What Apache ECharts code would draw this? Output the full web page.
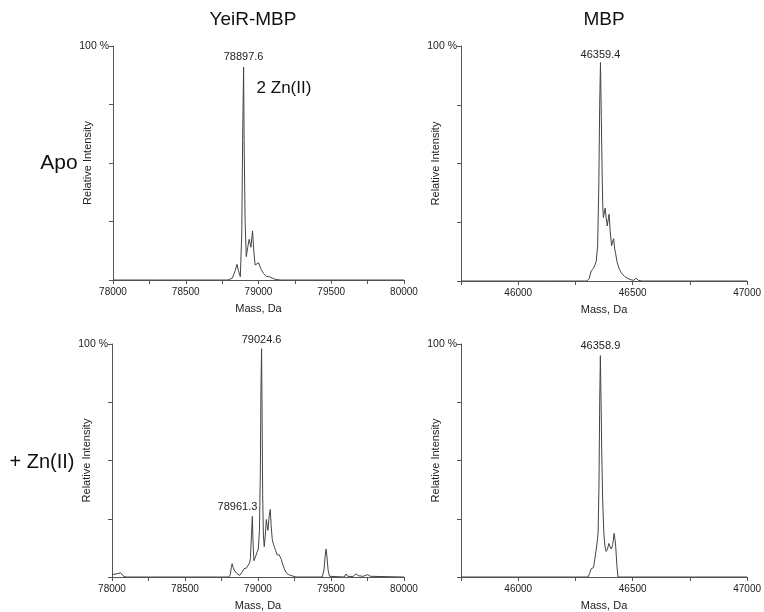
<!DOCTYPE html>
<html>
<head>
<meta charset="utf-8">
<script src="https://cdn.jsdelivr.net/npm/echarts@6/dist/echarts.min.js"></script>
<style>
html, body { margin: 0; padding: 0; background: #fff; }
#main { width: 764px; height: 612px; }
</style>
</head>
<body>
<div id="main"></div>
<script>
// Apo YeiR-MBP
var apoYeirMass = [78000, 78300, 78310, 78320, 78790, 78820, 78840, 78852, 78862, 78875, 78885, 78891, 78897.6, 78901, 78908, 78916, 78926, 78936, 78948, 78959, 78968, 78977, 78988, 79000, 79015, 79034, 79055, 79075, 79095, 79114, 79150, 79460, 79470, 79480, 79595, 79605, 79620, 80000];
var apoYeirInt  = [0, 0, 0.3, 0, 0, 0.8, 4, 6.7, 4, 1.4, 20, 60, 91, 60, 25, 10, 14, 17.4, 14, 21, 12, 6.4, 6, 7.4, 5, 2.8, 1.5, 1.4, 0.8, 0.3, 0, 0, 0.5, 0, 0, 0.6, 0, 0];

// Apo MBP
var apoMbpMass = [45750, 46100, 46107, 46115, 46300, 46310, 46319, 46329, 46336, 46341, 46347, 46352, 46356, 46359.4, 46363, 46366, 46369, 46372, 46376, 46380, 46384, 46389, 46393, 46397, 46402, 46408, 46413, 46417, 46421, 46425, 46432, 46442, 46452, 46464, 46480, 46493, 46505, 46515, 46525, 46540, 46625, 46632, 46640, 46930, 46935, 46940, 47000];
var apoMbpInt  = [0, 0, 0.5, 0, 0, 1, 4.3, 5.4, 7, 8.5, 15, 40, 75, 93, 70, 50, 33, 27, 29, 31, 27, 23.4, 26, 28.4, 21, 15, 17, 18, 14, 12, 8, 5, 3.2, 2, 1, 0.5, 0.3, 1.2, 0.3, 0, 0, 0.5, 0, 0, 0.4, 0, 0];

// + Zn(II) YeiR-MBP
var znYeirMass = [78000, 78010, 78040, 78060, 78080, 78100, 78290, 78295, 78300, 78500, 78511, 78520, 78650, 78659, 78670, 78800, 78810, 78817, 78823, 78830, 78841, 78855, 78875, 78890, 78905, 78920, 78932, 78942, 78948, 78955, 78961.3, 78966, 78972, 78978, 78985, 78992, 79002, 79010, 79016, 79020, 79024.6, 79028, 79032, 79037, 79043, 79050, 79057, 79063, 79068, 79076, 79084, 79090, 79098, 79106, 79114, 79120, 79125, 79131, 79136, 79145, 79152, 79160, 79166, 79180, 79193, 79210, 79239, 79260, 79440, 79452, 79460, 79466, 79472, 79480, 79490, 79500, 79590, 79602, 79614, 79650, 79670, 79690, 79720, 79750, 79770, 80000];
var znYeirInt  = [1, 1.5, 1.5, 1.8, 0.3, 0, 0, 0.4, 0, 0, 0.3, 0, 0, 0.3, 0, 0, 1, 4, 5.7, 4, 2.6, 1.5, 0.7, 2, 3.6, 3.8, 3, 6, 8, 18, 26, 15, 7, 6.5, 9, 10.4, 12, 20, 45, 80, 98, 70, 35, 18, 13, 18, 24.7, 22, 20, 26, 29, 22, 16, 14, 12.6, 11.5, 11, 9.5, 8.7, 9.5, 9, 7.5, 6, 3.5, 1.9, 1, 0.4, 0, 0, 3, 9, 12, 9, 3, 0.3, 0, 0, 1.3, 0.3, 0.2, 1.3, 0.5, 0.3, 1, 0.3, 0];

// + Zn(II) MBP
var znMbpMass = [45750, 46305, 46312, 46319, 46325, 46329, 46335, 46341, 46346, 46349, 46353, 46356, 46358.9, 46362, 46365, 46369, 46374, 46379, 46384, 46390, 46396, 46401, 46407, 46413, 46419, 46423, 46426, 46431, 46436, 47000];
var znMbpInt  = [0, 0, 1.5, 3.6, 3.8, 4, 8, 12, 16, 19, 40, 75, 95, 75, 53, 33, 19, 13, 11, 12, 14.4, 13, 12, 14, 18.7, 16, 13, 5, 0, 0];

var rowLabels = ['Apo', '+ Zn(II)'];
var colTitles = ['YeiR-MBP', 'MBP'];

function zip(a, b) {
    return a.map(function (v, i) { return [v, b[i]]; });
}

var font = 'Liberation Sans, Arial, sans-serif';
var axisColor = '#555';
var textColor = '#222';

var grids = [
    {left: 113, top: 46, width: 291, height: 234},
    {left: 461, top: 46, width: 290, height: 235},
    {left: 112, top: 344, width: 292, height: 234},
    {left: 461, top: 344, width: 290, height: 234}
];

var ranges = [[78000, 80000], [45750, 47000], [78000, 80000], [45750, 47000]];

var xAxes = ranges.map(function (r, i) {
    return {
        type: 'value',
        gridIndex: i,
        min: r[0],
        max: r[1],
        interval: 250,
        name: 'Mass, Da',
        nameLocation: 'middle',
        nameGap: 23,
        nameMoveOverlap: false,
        nameTextStyle: {fontSize: 11, color: textColor, fontFamily: font},
        axisLine: {lineStyle: {color: axisColor, width: 1}},
        axisTick: {length: 4, lineStyle: {color: axisColor}},
        splitLine: {show: false},
        axisLabel: {
            fontSize: 10,
            color: textColor,
            fontFamily: font,
            margin: 7,
            formatter: function (v) { return v % 500 === 0 ? String(v) : ''; }
        }
    };
});

var yAxes = grids.map(function (g, i) {
    return {
        type: 'value',
        gridIndex: i,
        min: 0,
        max: 100,
        interval: 25,
        name: 'Relative Intensity',
        nameLocation: 'middle',
        nameGap: 20,
        nameMoveOverlap: false,
        nameTextStyle: {fontSize: 11, color: textColor, fontFamily: font},
        axisLine: {show: true, lineStyle: {color: axisColor, width: 1}},
        axisTick: {show: true, length: 4, lineStyle: {color: axisColor}},
        splitLine: {show: false},
        axisLabel: {
            fontSize: 10.5,
            color: textColor,
            fontFamily: font,
            margin: 4,
            formatter: function (v) { return v === 100 ? '100 %' : ''; }
        }
    };
});

function peakMark(items) {
    return {
        symbol: 'circle',
        symbolSize: 0,
        silent: true,
        label: {show: true, color: textColor, fontSize: 11, fontFamily: font, formatter: '{b}'},
        data: items
    };
}

var series = [
    {
        type: 'line', xAxisIndex: 0, yAxisIndex: 0,
        data: zip(apoYeirMass, apoYeirInt),
        markPoint: peakMark([{name: '78897.6', coord: [78897.6, 91], label: {position: 'top', distance: 5}}])
    },
    {
        type: 'line', xAxisIndex: 1, yAxisIndex: 1,
        data: zip(apoMbpMass, apoMbpInt),
        markPoint: peakMark([{name: '46359.4', coord: [46359.4, 93], label: {position: 'top', distance: 2}}])
    },
    {
        type: 'line', xAxisIndex: 2, yAxisIndex: 2,
        data: zip(znYeirMass, znYeirInt),
        markPoint: peakMark([
            {name: '79024.6', coord: [79024.6, 98], label: {position: 'top', distance: 3}},
            {name: '78961.3', coord: [78961.3, 26], label: {position: 'left', distance: 0, offset: [5, -9]}}
        ])
    },
    {
        type: 'line', xAxisIndex: 3, yAxisIndex: 3,
        data: zip(znMbpMass, znMbpInt),
        markPoint: peakMark([{name: '46358.9', coord: [46358.9, 95], label: {position: 'top', distance: 4}}])
    }
].map(function (s) {
    s.showSymbol = false;
    s.symbol = 'none';
    s.silent = true;
    s.animation = false;
    s.lineStyle = {color: '#444', width: 1};
    return s;
});

function label(text, x, y, size) {
    return {
        type: 'text',
        x: x,
        y: y,
        style: {
            text: text,
            fill: '#111',
            font: size + 'px ' + font,
            align: 'center',
            verticalAlign: 'middle'
        }
    };
}

var chart = echarts.init(document.getElementById('main'));
chart.setOption({
    backgroundColor: '#fff',
    animation: false,
    grid: grids,
    xAxis: xAxes,
    yAxis: yAxes,
    series: series,
    graphic: [
        label(colTitles[0], 253, 20, 19),
        label(colTitles[1], 604, 20, 19),
        label(rowLabels[0], 59, 163, 21),
        label(rowLabels[1], 42, 462, 20),
        label('2 Zn(II)', 284, 88, 17)
    ]
});
</script>
</body>
</html>
